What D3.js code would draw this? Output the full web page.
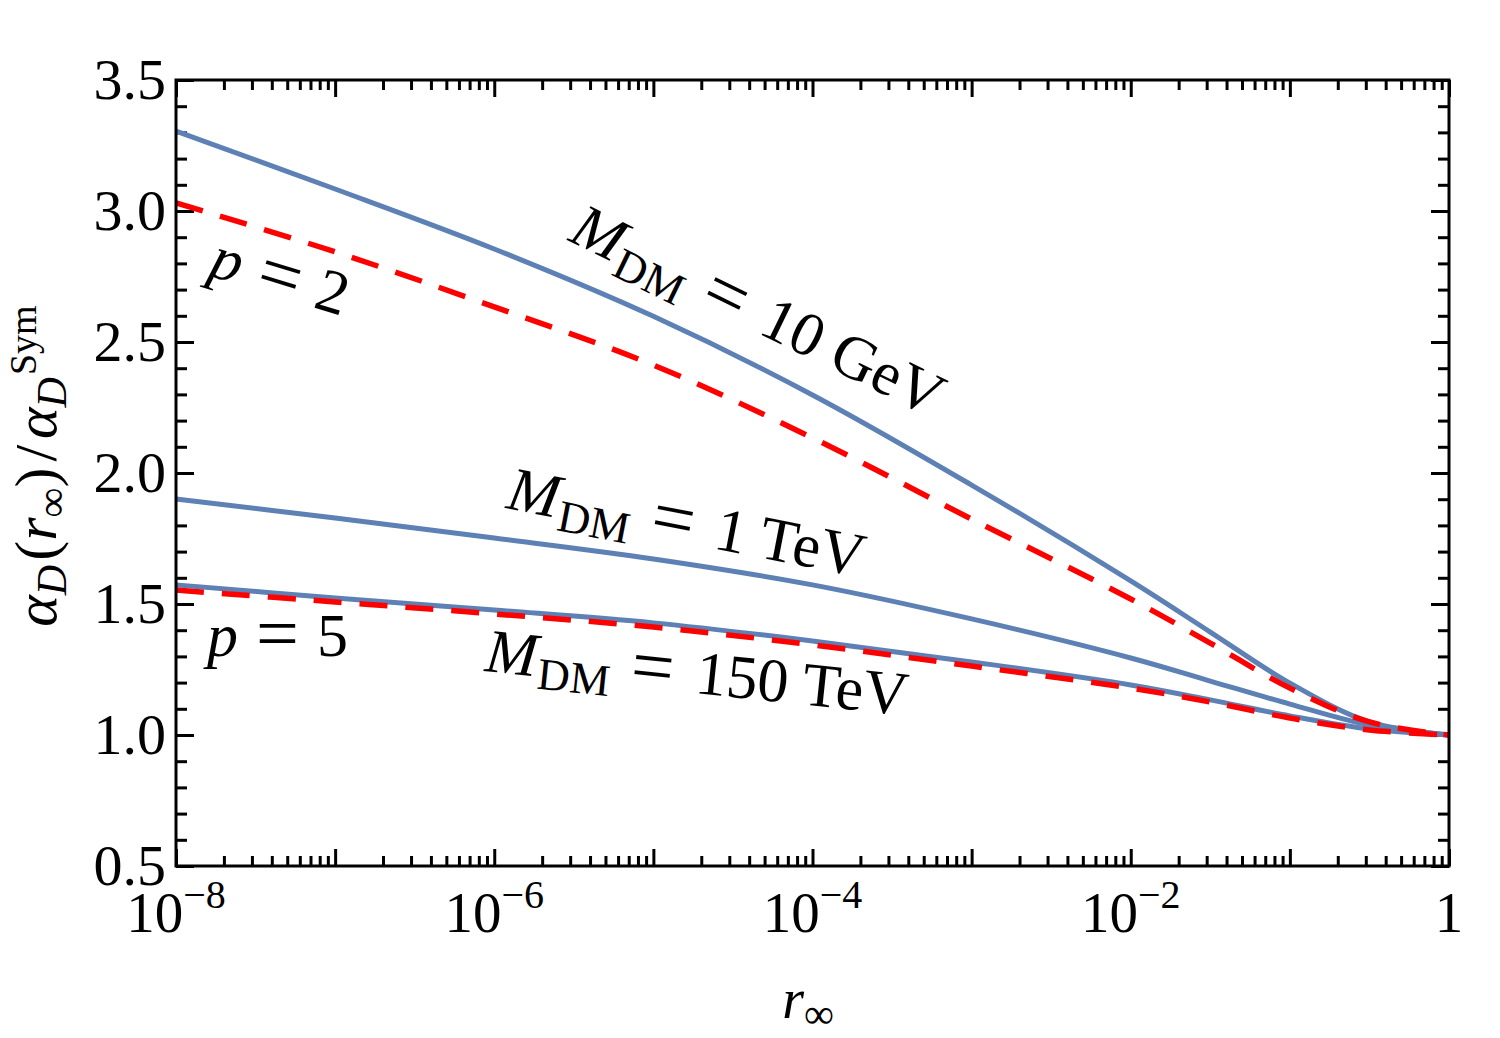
<!DOCTYPE html>
<html>
<head>
<meta charset="utf-8">
<script src="https://cdn.jsdelivr.net/npm/d3@7"></script>
<style>
  body { margin: 0; background: #fff; }
</style>
</head>
<body>
<svg id="chart" width="1500" height="1038" font-family="Liberation Serif, Times New Roman, Times, serif"></svg>
<script>
// values
const rInf = [1e-8, 1e-7, 1e-6, 1e-5, 1e-4, 1e-3, 1e-2, 3.16e-2, 1e-1, 3.16e-1, 1];
const mDM10GeV  = [3.305, 3.084, 2.855, 2.598, 2.298, 1.954, 1.588, 1.393, 1.198, 1.050, 1.0];
const p2        = [3.031, 2.844, 2.634, 2.412, 2.134, 1.824, 1.519, 1.351, 1.179, 1.050, 1.0];
const mDM1TeV   = [1.901, 1.828, 1.752, 1.672, 1.573, 1.443, 1.294, 1.206, 1.118, 1.038, 1.0];
const mDM150TeV = [1.573, 1.523, 1.477, 1.428, 1.359, 1.279, 1.191, 1.134, 1.073, 1.023, 1.0];
const p5        = [1.553, 1.508, 1.462, 1.412, 1.344, 1.263, 1.179, 1.126, 1.065, 1.019, 1.0];

const xLabelExps = [-8, -6, -4, -2, 0];
const yTickValues = [0.5, 1.0, 1.5, 2.0, 2.5, 3.0, 3.5];

const plotLeft = 176, plotRight = 1449, plotTop = 80, plotBottom = 866;
const blue = '#5E81B5', red = '#FF0000';
const serif = 'Liberation Serif, Times New Roman, serif';

const svg = d3.select('#chart');

const x = d3.scaleLog().domain([1e-8, 1]).range([plotLeft, plotRight]);
const y = d3.scaleLinear().domain([0.5, 3.5]).range([plotBottom, plotTop]);

// ticks
const majorX = d3.range(-8, 1).map(e => Math.pow(10, e));
const minorX = [];
for (let e = -8; e < 0; e++) for (let k = 2; k <= 9; k++) minorX.push(k * Math.pow(10, e));
const minorY = d3.range(5, 36).map(v => v / 10).filter(v => Math.round(v * 10) % 5 !== 0);

function tickAxis(axisFn, scale, values, size, pos) {
  const g = svg.append('g').attr('transform', pos)
    .call(axisFn(scale).tickValues(values).tickSize(-size).tickFormat(''));
  g.select('.domain').remove();
  g.selectAll('.tick line').attr('stroke', '#000').attr('stroke-width', 3);
  return g;
}

tickAxis(d3.axisBottom, x, majorX, 17, `translate(0,${plotBottom})`);
tickAxis(d3.axisBottom, x, minorX, 10, `translate(0,${plotBottom})`);
tickAxis(d3.axisTop, x, majorX, 17, `translate(0,${plotTop})`);
tickAxis(d3.axisTop, x, minorX, 10, `translate(0,${plotTop})`);
tickAxis(d3.axisLeft, y, yTickValues, 18, `translate(${plotLeft},0)`);
tickAxis(d3.axisLeft, y, minorY, 11, `translate(${plotLeft},0)`);
tickAxis(d3.axisRight, y, yTickValues, 18, `translate(${plotRight},0)`);
tickAxis(d3.axisRight, y, minorY, 11, `translate(${plotRight},0)`);

// curves
const line = d3.line()
  .x(d => x(d[0]))
  .y(d => y(d[1]))
  .curve(d3.curveCatmullRom.alpha(0.5));

const series = [
  { vals: mDM10GeV, color: blue, dash: null, w: 5 },
  { vals: mDM1TeV, color: blue, dash: null, w: 5 },
  { vals: mDM150TeV, color: blue, dash: null, w: 5 },
  { vals: p2, color: red, dash: '28,18', w: 5.5 },
  { vals: p5, color: red, dash: '28,18', w: 5.5 }
];

svg.append('g').selectAll('path')
  .data(series)
  .join('path')
  .attr('d', s => line(rInf.map((r, i) => [r, s.vals[i]])))
  .attr('fill', 'none')
  .attr('stroke', s => s.color)
  .attr('stroke-width', s => s.w)
  .attr('stroke-dasharray', s => s.dash);

// frame
svg.append('rect')
  .attr('x', plotLeft).attr('y', plotTop)
  .attr('width', plotRight - plotLeft).attr('height', plotBottom - plotTop)
  .attr('fill', 'none').attr('stroke', '#000').attr('stroke-width', 3);

// tick labels
const xl = svg.append('g');
xLabelExps.forEach(e => {
  const t = xl.append('text')
    .attr('x', x(Math.pow(10, e)))
    .attr('y', 932)
    .attr('text-anchor', 'middle')
    .attr('font-family', serif)
    .attr('font-size', 57);
  if (e === 0) {
    t.text('1');
  } else {
    t.append('tspan').text('10');
    t.append('tspan').attr('dy', -24).attr('font-size', 40).text('\u2212' + Math.abs(e));
  }
});

svg.append('g').selectAll('text')
  .data(yTickValues)
  .join('text')
  .attr('x', 166)
  .attr('y', d => y(d) + 19)
  .attr('text-anchor', 'end')
  .attr('font-family', serif)
  .attr('font-size', 58)
  .text(d => d.toFixed(1));

// axis titles
const xt = svg.append('text')
  .attr('x', 808).attr('y', 1018)
  .attr('text-anchor', 'middle')
  .attr('font-family', serif)
  .attr('font-size', 56);
xt.append('tspan').attr('font-style', 'italic').text('r');
xt.append('tspan').attr('dy', 10).attr('font-size', 42).text('\u221E');

const yt = svg.append('text')
  .attr('transform', 'translate(56,466) rotate(-90)')
  .attr('text-anchor', 'middle')
  .attr('font-family', serif)
  .attr('font-size', 60);
yt.append('tspan').attr('font-style', 'italic').text('\u03B1');
yt.append('tspan').attr('dy', 10).attr('font-size', 42).attr('font-style', 'italic').text('D');
yt.append('tspan').attr('dy', -10).attr('dx', 4).text('(');
yt.append('tspan').attr('font-style', 'italic').text('r');
yt.append('tspan').attr('dy', 10).attr('font-size', 42).text('\u221E');
yt.append('tspan').attr('dy', -10).text(')');
yt.append('tspan').attr('dx', 6).text('/');
yt.append('tspan').attr('dx', 6).attr('font-style', 'italic').text('\u03B1');
yt.append('tspan').attr('dy', 10).attr('font-size', 42).attr('font-style', 'italic').text('D');
yt.append('tspan').attr('dy', -30).attr('dx', 2).attr('font-size', 38).text('Sym');

// curve annotations
function massLabel(px, py, angle, value) {
  const t = svg.append('text')
    .attr('transform', `translate(${px},${py}) rotate(${angle})`)
    .attr('font-family', serif)
    .attr('font-size', 62);
  t.append('tspan').attr('font-style', 'italic').text('M');
  t.append('tspan').attr('dy', 12).attr('dx', 2).attr('font-size', 45).text('DM');
  t.append('tspan').attr('dy', -9).attr('dx', 20).attr('font-size', 76).text('=');
  t.append('tspan').attr('dy', -3).attr('dx', 22).text(value);
}
massLabel(567, 240, 26, '10 GeV');
massLabel(505, 508, 11, '1 TeV');
massLabel(484, 671, 6, '150 TeV');

function pLabel(px, py, angle, value) {
  const t = svg.append('text')
    .attr('transform', `translate(${px},${py}) rotate(${angle})`)
    .attr('font-family', serif)
    .attr('font-size', 62);
  t.append('tspan').attr('font-style', 'italic').text('p');
  t.append('tspan').attr('dx', 18).attr('dy', 3).attr('font-size', 76).text('=');
  t.append('tspan').attr('dx', 18).attr('dy', -3).text(value);
}
pLabel(207, 275, 17, '2');
pLabel(207, 656, 0, '5');
</script>
</body>
</html>
